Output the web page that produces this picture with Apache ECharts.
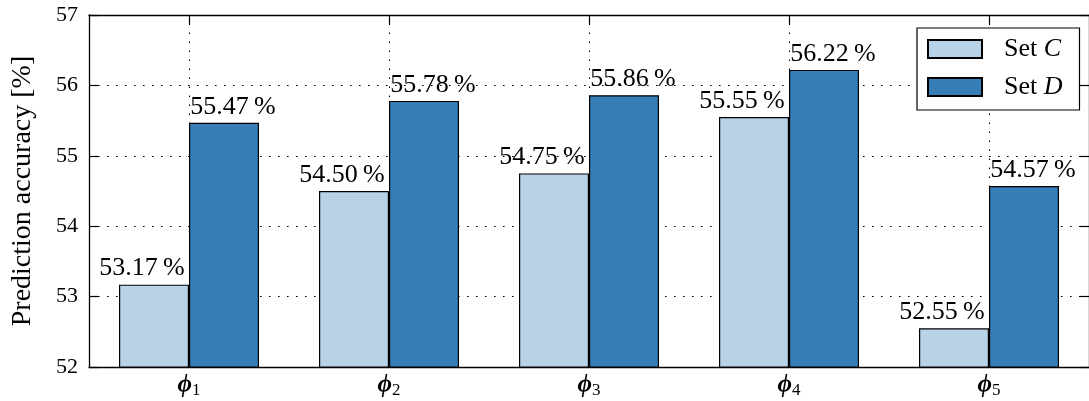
<!DOCTYPE html>
<html>
<head>
<meta charset="utf-8">
<script src="https://cdn.jsdelivr.net/npm/echarts@6/dist/echarts.min.js"></script>
<style>
  html, body { margin: 0; padding: 0; background: #fff; }
  #chart { width: 1089px; height: 401px; }
</style>
</head>
<body>
<div id="chart"></div>
<script>
// Feature sets on the x axis
const categories = ['\u03D51', '\u03D52', '\u03D53', '\u03D54', '\u03D55'];
// Prediction accuracy (%) per feature set
const setC = [53.17, 54.50, 54.75, 55.55, 52.55];
const setD = [55.47, 55.78, 55.86, 56.22, 54.57];
const seriesNames = ['Set C', 'Set D'];
// y axis range and step
const yMin = 52, yMax = 57, yStep = 1;

const SERIF = '"Liberation Serif", "DejaVu Serif", serif';
const INK = '#000';
const dotted = { color: INK, width: 1.1, type: [1.6, 7.4] };

const chart = echarts.init(document.getElementById('chart'), null, { renderer: 'canvas' });

function barLabel(dx) {
  return {
    show: true,
    position: 'top',
    distance: 3,
    offset: [dx, 0],
    color: INK,
    fontFamily: SERIF,
    fontSize: 26,
    formatter: p => p.value.toFixed(2) + '\u2009%'
  };
}

chart.setOption({
  animation: false,
  backgroundColor: '#fff',
  grid: { left: 89, top: 15, width: 1004, height: 352, containLabel: false },
  legend: {
    orient: 'vertical',
    left: 917,
    top: 28,
    data: seriesNames,
    backgroundColor: '#fff',
    borderColor: INK,
    borderWidth: 1.2,
    borderRadius: 0,
    padding: [8, 17, 10, 10],
    itemWidth: 54,
    itemHeight: 18,
    itemGap: 12,
    icon: 'rect',
    z: 10,
    formatter: name => name.replace(/(\S)$/, '{i|$1}'),
    textStyle: {
      color: INK,
      fontFamily: SERIF,
      fontSize: 26,
      lineHeight: 18,
      padding: [0, 0, 0, 17],
      rich: {
        i: { fontFamily: SERIF, fontStyle: 'italic', fontSize: 26, lineHeight: 18, color: INK }
      }
    }
  },
  xAxis: [
    {
      type: 'category',
      position: 'bottom',
      data: categories,
      boundaryGap: true,
      axisLine: { show: true, onZero: false, lineStyle: { color: INK, width: 1.3 } },
      axisTick: { show: true, inside: true, alignWithLabel: true, length: 9, lineStyle: { color: INK, width: 1.2 } },
      splitLine: { show: false },
      axisLabel: {
        margin: 6,
        formatter: v => '{p|' + v.charAt(0) + '}{s|' + v.slice(1) + '}',
        rich: {
          p: { fontFamily: SERIF, fontStyle: 'italic', fontWeight: 'bold', fontSize: 25, color: INK },
          s: { fontFamily: SERIF, fontSize: 17, color: INK, padding: [9, 0, 0, 0] }
        }
      }
    },
    {
      type: 'category',
      position: 'top',
      data: categories,
      boundaryGap: true,
      axisLine: { show: true, onZero: false, lineStyle: { color: INK, width: 1.3 } },
      axisTick: { show: true, inside: true, alignWithLabel: true, length: 9, lineStyle: { color: INK, width: 1.2 } },
      axisLabel: { show: false },
      splitLine: { show: false }
    }
  ],
  yAxis: [
    {
      type: 'value',
      position: 'left',
      min: yMin,
      max: yMax,
      interval: yStep,
      name: 'Prediction accuracy [%]',
      nameLocation: 'middle',
      nameRotate: 90,
      nameGap: 52,
      nameTextStyle: { fontFamily: SERIF, fontSize: 28, color: INK },
      axisLine: { show: true, onZero: false, lineStyle: { color: INK, width: 1.3 } },
      axisTick: { show: true, inside: true, length: 9, lineStyle: { color: INK, width: 1.2 } },
      axisLabel: { margin: 11, fontFamily: SERIF, fontSize: 22, color: INK },
      splitLine: { show: true, lineStyle: dotted }
    },
    {
      type: 'value',
      position: 'right',
      min: yMin,
      max: yMax,
      interval: yStep,
      axisLine: { show: true, onZero: false, lineStyle: { color: INK, width: 1.3 } },
      axisTick: { show: true, inside: true, length: 9, lineStyle: { color: INK, width: 1.2 } },
      axisLabel: { show: false },
      splitLine: { show: false }
    }
  ],
  series: [
    {
      // vertical dotted grid lines through the category centres
      name: 'grid',
      type: 'line',
      data: [],
      symbol: 'none',
      silent: true,
      z: 1,
      markLine: {
        silent: true,
        symbol: 'none',
        z: 1,
        label: { show: false },
        lineStyle: dotted,
        emphasis: { disabled: true },
        data: categories.map(c => ({ xAxis: c }))
      }
    },
    {
      name: seriesNames[0],
      type: 'bar',
      data: setC,
      barWidth: '35%',
      barGap: '0%',
      itemStyle: { color: '#b8d3e8', borderColor: INK, borderWidth: 1.2 },
      label: barLabel(-12),
      z: 2
    },
    {
      name: seriesNames[1],
      type: 'bar',
      data: setD,
      barWidth: '35%',
      barGap: '0%',
      itemStyle: { color: '#377db8', borderColor: INK, borderWidth: 1.2 },
      label: barLabel(9),
      z: 2
    }
  ]
});
</script>
</body>
</html>
